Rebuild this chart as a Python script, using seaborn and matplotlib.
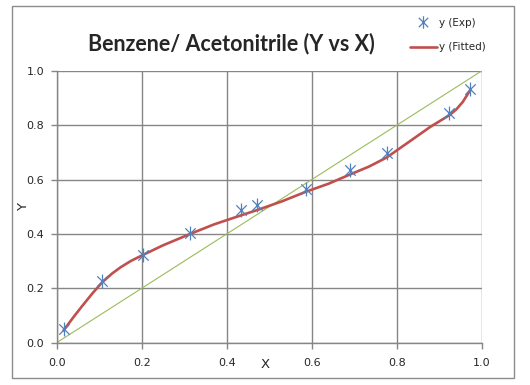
import numpy as np
import pandas as pd
import matplotlib
matplotlib.use("Agg")
import matplotlib.pyplot as plt
from matplotlib.path import Path
from matplotlib.patches import Rectangle
from matplotlib.lines import Line2D
import seaborn as sns

# ---------------------------------------------------------------------------
# Data
# ---------------------------------------------------------------------------
x_exp = [0.016, 0.107, 0.202, 0.314, 0.433, 0.472, 0.586, 0.689, 0.776, 0.924, 0.973]
y_exp = [0.049, 0.225, 0.323, 0.402, 0.488, 0.506, 0.564, 0.635, 0.696, 0.846, 0.932]

x_fit = [0.016, 0.04, 0.06, 0.085, 0.107, 0.13, 0.15, 0.175, 0.202, 0.25, 0.314,
         0.37, 0.433, 0.472, 0.53, 0.586, 0.64, 0.689, 0.735, 0.776, 0.83, 0.879,
         0.924, 0.94, 0.955, 0.972]
y_fit = [0.045, 0.095, 0.135, 0.183, 0.222, 0.254, 0.277, 0.301, 0.322, 0.358, 0.40,
         0.435, 0.468, 0.488, 0.52, 0.555, 0.585, 0.618, 0.648, 0.681, 0.74, 0.794,
         0.837, 0.858, 0.885, 0.927]

diag_x = [0.0, 1.0]
diag_y = [0.0, 1.0]

ticks = [0.0, 0.2, 0.4, 0.6, 0.8, 1.0]
tick_labels = ["0.0", "0.2", "0.4", "0.6", "0.8", "1.0"]

BLUE = "#4F81BD"
RED = "#C0504D"
GREEN = "#9BBB59"
GRID = "#868686"

# Excel-like star marker: vertical bar plus an X
star = Path(
    [(0, -1), (0, 1), (-0.75, -0.75), (0.75, 0.75), (-0.75, 0.75), (0.75, -0.75)],
    [Path.MOVETO, Path.LINETO, Path.MOVETO, Path.LINETO, Path.MOVETO, Path.LINETO],
)

sns.set_style("white")
plt.rcParams["font.family"] = ["DejaVu Sans"]
plt.rcParams["font.sans-serif"] = ["DejaVu Sans"]

fig = plt.figure(figsize=(5.3, 3.85), dpi=100)
ax = fig.add_axes([0.107, 0.110, 0.802, 0.706])

# outer chart frame
fig.patches.append(Rectangle((0.0226, 0.018), 0.947, 0.966, transform=fig.transFigure,
                             fill=False, edgecolor="#8C8C8C", linewidth=1.0))

exp_df = pd.DataFrame({"x": x_exp, "y": y_exp})
fit_df = pd.DataFrame({"x": x_fit, "y": y_fit})
diag_df = pd.DataFrame({"x": diag_x, "y": diag_y})

sns.lineplot(data=diag_df, x="x", y="y", color=GREEN, linewidth=0.8, ax=ax,
             estimator=None, sort=False)
sns.lineplot(data=fit_df, x="x", y="y", color=RED, linewidth=1.9, ax=ax,
             estimator=None, sort=False)
sns.scatterplot(data=exp_df, x="x", y="y", marker=star, s=100, color=BLUE,
                linewidth=0.9, edgecolor=BLUE, ax=ax, zorder=5)

ax.set_xlim(0, 1)
ax.set_ylim(0, 1)
ax.set_xticks(ticks)
ax.set_xticklabels(tick_labels, family="DejaVu Sans")
ax.set_yticks(ticks)
ax.set_yticklabels(tick_labels, family="DejaVu Sans")
ax.grid(True, color=GRID, linewidth=1.0)
ax.set_axisbelow(True)
for side in ["top", "right"]:
    ax.spines[side].set_visible(False)
for side in ["left", "bottom"]:
    ax.spines[side].set_color(GRID)
    ax.spines[side].set_linewidth(1.0)
ax.tick_params(axis="both", direction="out", length=4, width=1.0, color=GRID,
               labelsize=8, left=True, bottom=True)
ax.tick_params(axis="x", pad=7)
ax.tick_params(axis="y", pad=5)

ax.set_xlabel("X", fontsize=9.5, family="DejaVu Sans")
ax.set_ylabel("Y", fontsize=9.5, family="DejaVu Sans")
ax.xaxis.set_label_coords(0.49, -0.058)
ax.yaxis.set_label_coords(-0.062, 0.5)

fig.text(0.436, 0.887, "Benzene/ Acetonitrile (Y vs X)", ha="center", va="center",
         fontsize=15.5, fontweight="bold", family=["Lato", "DejaVu Sans"])

handles = [
    Line2D([], [], linestyle="none", marker=star, markersize=9, color=BLUE,
           markeredgewidth=0.9),
    Line2D([], [], color=RED, linewidth=1.9),
]
fig.legend(handles, ["y (Exp)", "y (Fitted)"], loc="upper left",
           bbox_to_anchor=(0.755, 0.978), frameon=False,
           prop={"family": "DejaVu Sans", "size": 7.5},
           handlelength=2.6, handletextpad=0.2, labelspacing=1.4)

fig.savefig("out.png", dpi=100)
plt.close(fig)
